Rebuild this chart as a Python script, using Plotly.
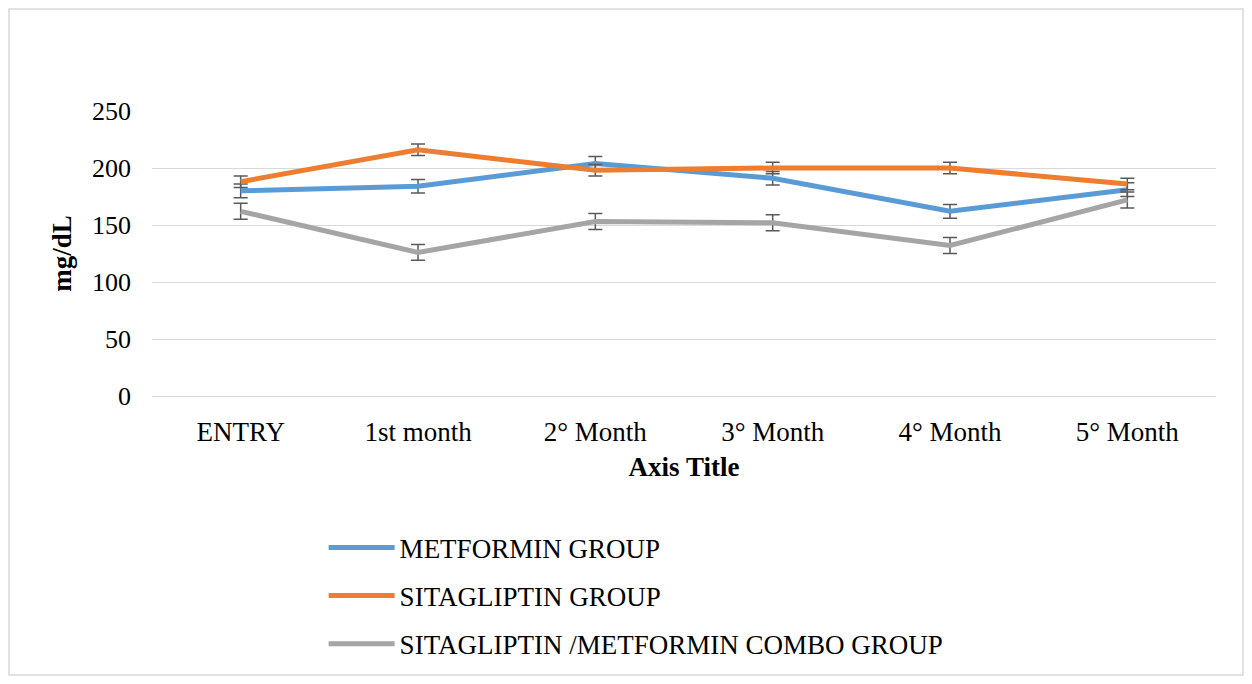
import plotly.graph_objects as go

categories = ["ENTRY", "1st month", "2° Month", "3° Month", "4° Month", "5° Month"]
metformin = [180, 184, 204, 191, 162, 181]
sitagliptin = [188, 216, 198, 200, 200, 186]
combo = [162, 126, 153, 152, 132, 172]
metformin_err = [6, 6, 6, 6, 6, 6]
sitagliptin_err = [5, 5, 5, 5, 5, 5]
combo_err = [7, 7, 7, 7, 7, 7]

series = [
    ("METFORMIN GROUP", metformin, metformin_err, "#5B9BD5"),
    ("SITAGLIPTIN GROUP", sitagliptin, sitagliptin_err, "#ED7D31"),
    ("SITAGLIPTIN /METFORMIN COMBO GROUP", combo, combo_err, "#A5A5A5"),
]

font = "Liberation Serif, Times New Roman, serif"
W, H = 1236, 668
L, R, T, B = 144, 28, 103, 280
pw, ph = W - L - R, H - T - B

fig = go.Figure()
for i, (name, vals, err, col) in enumerate(series):
    fig.add_trace(go.Scatter(
        x=categories, y=vals, name=name, mode="lines",
        line=dict(color=col, width=5),
        error_y=dict(type="data", array=err, visible=True, color="#595959",
                     thickness=1.5, width=7),
        legendgroup=str(i),
    ))

fig.update_layout(
    width=W, height=H,
    margin=dict(l=L, r=R, t=T, b=B, autoexpand=False),
    paper_bgcolor="white", plot_bgcolor="white",
    font=dict(family=font, size=26, color="#000000"),
    showlegend=True,
    legend=dict(x=0.1613, y=-0.447, xanchor="left", yanchor="top",
                font=dict(family=font, size=27, color="#000000"),
                tracegroupgap=10, itemwidth=66, bgcolor="rgba(0,0,0,0)"),
    xaxis=dict(range=[-0.5, 5.5], showgrid=False, showline=True, linecolor="#D9D9D9", linewidth=1,
               ticks="", ticklabelstandoff=12, tickfont=dict(size=27),
               title=dict(text="<b>Axis Title</b>", font=dict(family=font, size=27), standoff=10)),
    yaxis=dict(range=[0, 250], dtick=50, showgrid=True, gridcolor="#D9D9D9", gridwidth=1,
               zeroline=False, showline=False, ticks="", ticklabelstandoff=20,
               title=dict(text="<b>mg/dL</b>", font=dict(family=font, size=27), standoff=12)),
)

fig.add_shape(type="rect", xref="paper", yref="paper",
              x0=-(L - 1) / pw, x1=1 + (R - 1) / pw, y0=-(B - 1) / ph, y1=1 + (T - 1) / ph,
              line=dict(color="#D9D9D9", width=1.5), fillcolor="rgba(0,0,0,0)", layer="below")

fig.write_html("out.html")
